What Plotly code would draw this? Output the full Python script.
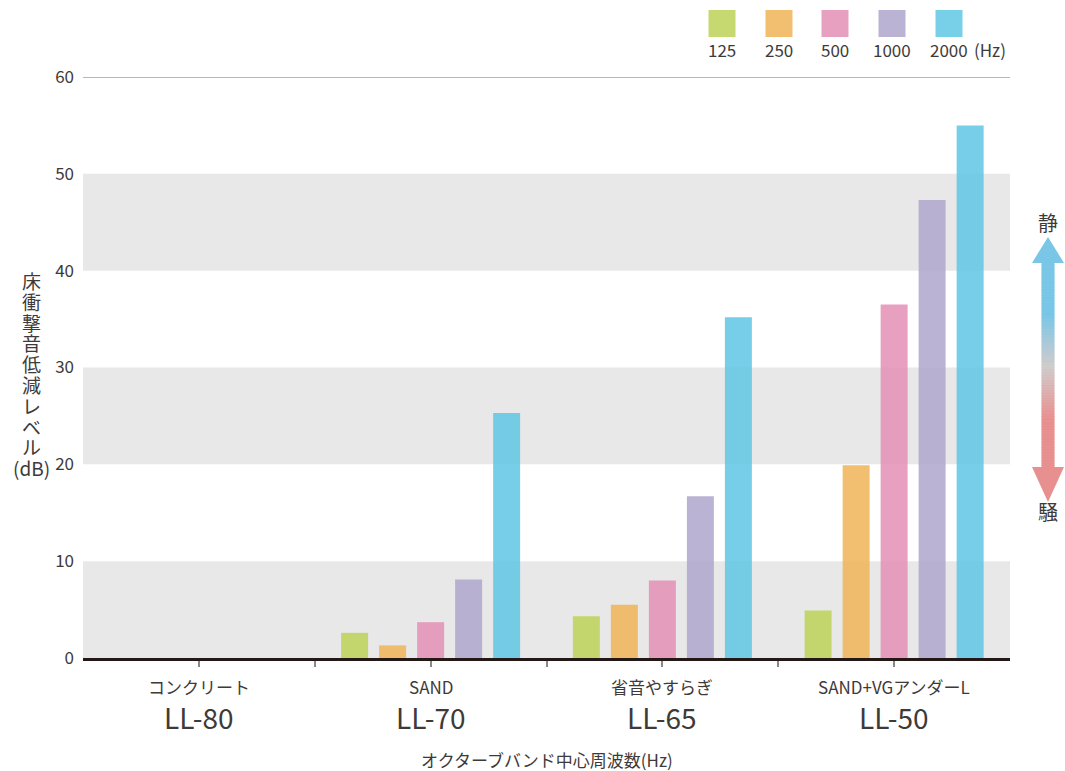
import plotly.graph_objects as go

# ---- data ----
groups = ["コンクリート", "SAND", "省音やすらぎ", "SAND+VGアンダーL"]
ratings = ["LL-80", "LL-70", "LL-65", "LL-50"]
freqs = ["125", "250", "500", "1000", "2000"]
v125 = [0, 2.6, 4.3, 4.9]
v250 = [0, 1.3, 5.5, 19.9]
v500 = [0, 3.7, 8.0, 36.5]
v1000 = [0, 8.1, 16.7, 47.3]
v2000 = [0, 25.3, 35.2, 55.0]
y_ticks = [0, 10, 20, 30, 40, 50, 60]
gray_bands = [(0, 10), (20, 30), (40, 50)]
y_title_lines = list("床衝撃音低減レベル") + ["(dB)"]

series = [v125, v250, v500, v1000, v2000]
bar_colors = ["#bcd258", "#efb456", "#e48fb5", "#afa6cb", "#5fc6e4"]
legend_colors = ["#c6d971", "#f1bf6f", "#e8a0c0", "#bbb3d3", "#77cfe8"]
txt = "#3e3a39"
font_family = "Noto Sans CJK JP, Noto Sans, sans-serif"

xs = list(range(len(groups)))

fig = go.Figure()
for f, vals, c in zip(freqs, series, bar_colors):
    fig.add_trace(go.Bar(x=xs, y=vals, name=f, marker=dict(color=c, line=dict(width=0)),
                         opacity=0.85, showlegend=False))

L, W, T, B = 83, 1010, 77, 658
def px_x(p): return (p - L) / (W - L)
def px_y(p): return (B - p) / (B - T)

shapes = []
for a, b in gray_bands:
    shapes.append(dict(type="rect", xref="paper", yref="y", x0=0, x1=1, y0=a, y1=b,
                       fillcolor="#e8e8e8", line=dict(width=0), layer="below"))
shapes.append(dict(type="line", xref="paper", yref="y", x0=0, x1=1, y0=60, y1=60,
                   line=dict(color="#6e6e6e", width=1.2), layer="below"))

annotations = []
def note(x, y, text, size, xref="paper", xanchor="center"):
    return dict(x=x, y=y, xref=xref, yref="paper", text=text, showarrow=False,
                xanchor=xanchor, yanchor="middle",
                font=dict(size=size, color=txt, family=font_family))

# category labels
for i, (g, r) in enumerate(zip(groups, ratings)):
    annotations.append(note(i, px_y(686), g, 17, xref="x"))
    annotations.append(note(i, px_y(717), r, 28, xref="x"))
# x axis title
annotations.append(note(0.5, px_y(759), "オクターブバンド中心周波数(Hz)", 17))
# y axis title: one vertical stack, base size sets tight line spacing, spans enlarge glyphs
ytitle = "<br>".join("<span style='font-size:19px'>%s</span>" % ch for ch in y_title_lines)
annotations.append(note(px_x(31), px_y(374), ytitle, 16))

# ---- custom legend (squares with labels below) ----
leg_x = [722, 779, 835, 892, 949]
for f, c, cx in zip(freqs, legend_colors, leg_x):
    shapes.append(dict(type="rect", xref="paper", yref="paper", x0=px_x(cx - 13.5), x1=px_x(cx + 13.5),
                       y0=px_y(37), y1=px_y(10), fillcolor=c, line=dict(width=0)))
    annotations.append(note(px_x(cx), px_y(50), f, 17))
annotations.append(note(px_x(972), px_y(50), "(Hz)", 17, xanchor="left"))

# ---- gradient arrow on the right ----
def lerp(c1, c2, t):
    return tuple(round(a + (b - a) * t) for a, b in zip(c1, c2))
blue = (122, 198, 230)
grey = (208, 204, 204)
pink = (232, 144, 143)
ax = 1048
top_shaft, bot_shaft = 262, 468
n = 80
for k in range(n):
    y0 = top_shaft + (bot_shaft - top_shaft) * k / n
    y1 = top_shaft + (bot_shaft - top_shaft) * (k + 1) / n
    ym = (y0 + y1) / 2
    if ym < 315:
        col = blue
    elif ym < 367:
        col = lerp(blue, grey, (ym - 315) / 52)
    elif ym < 420:
        col = lerp(grey, pink, (ym - 367) / 53)
    else:
        col = pink
    shapes.append(dict(type="rect", xref="paper", yref="paper", x0=px_x(ax - 6.5), x1=px_x(ax + 6.5),
                       y0=px_y(y1 + 0.5), y1=px_y(y0 - 0.5), fillcolor="rgb(%d,%d,%d)" % col,
                       line=dict(width=0)))
def tri(pts, col):
    path = "M " + " L ".join("%f,%f" % (px_x(x), px_y(y)) for x, y in pts) + " Z"
    return dict(type="path", xref="paper", yref="paper", path=path, fillcolor=col, line=dict(width=0))
shapes.append(tri([(ax - 16, 263), (ax + 16, 263), (ax, 237)], "rgb(%d,%d,%d)" % blue))
shapes.append(tri([(ax - 16, 467), (ax + 16, 467), (ax, 502)], "rgb(%d,%d,%d)" % pink))
annotations.append(note(px_x(ax), px_y(222), "静", 20))
annotations.append(note(px_x(ax), px_y(511), "騒", 20))

fig.update_layout(
    width=1065, height=771,
    margin=dict(l=L, r=1065 - W, t=T, b=771 - B),
    paper_bgcolor="white", plot_bgcolor="white",
    barmode="group", bargap=0.18, bargroupgap=0.29,
    shapes=shapes, annotations=annotations,
    font=dict(family=font_family, color=txt),
    xaxis=dict(range=[-0.5, 3.5], tickvals=[-0.5 + 0.5 * k for k in range(1, 8)],
               ticktext=[""] * 7, ticks="outside", ticklen=6, tickwidth=1.5, tickcolor="#888888",
               showgrid=False, zeroline=False, showline=True, linecolor="#231815", linewidth=3,
               fixedrange=True),
    yaxis=dict(range=[0, 60], tickvals=y_ticks, ticktext=[str(t) for t in y_ticks], showgrid=False,
               zeroline=False, showline=False, ticks="", tickfont=dict(size=17, color=txt),
               ticklabelstandoff=8, fixedrange=True),
)

fig.write_html("out.html", config={"displayModeBar": False},
               post_script="document.body.style.margin='0';document.body.style.overflow='hidden';")
